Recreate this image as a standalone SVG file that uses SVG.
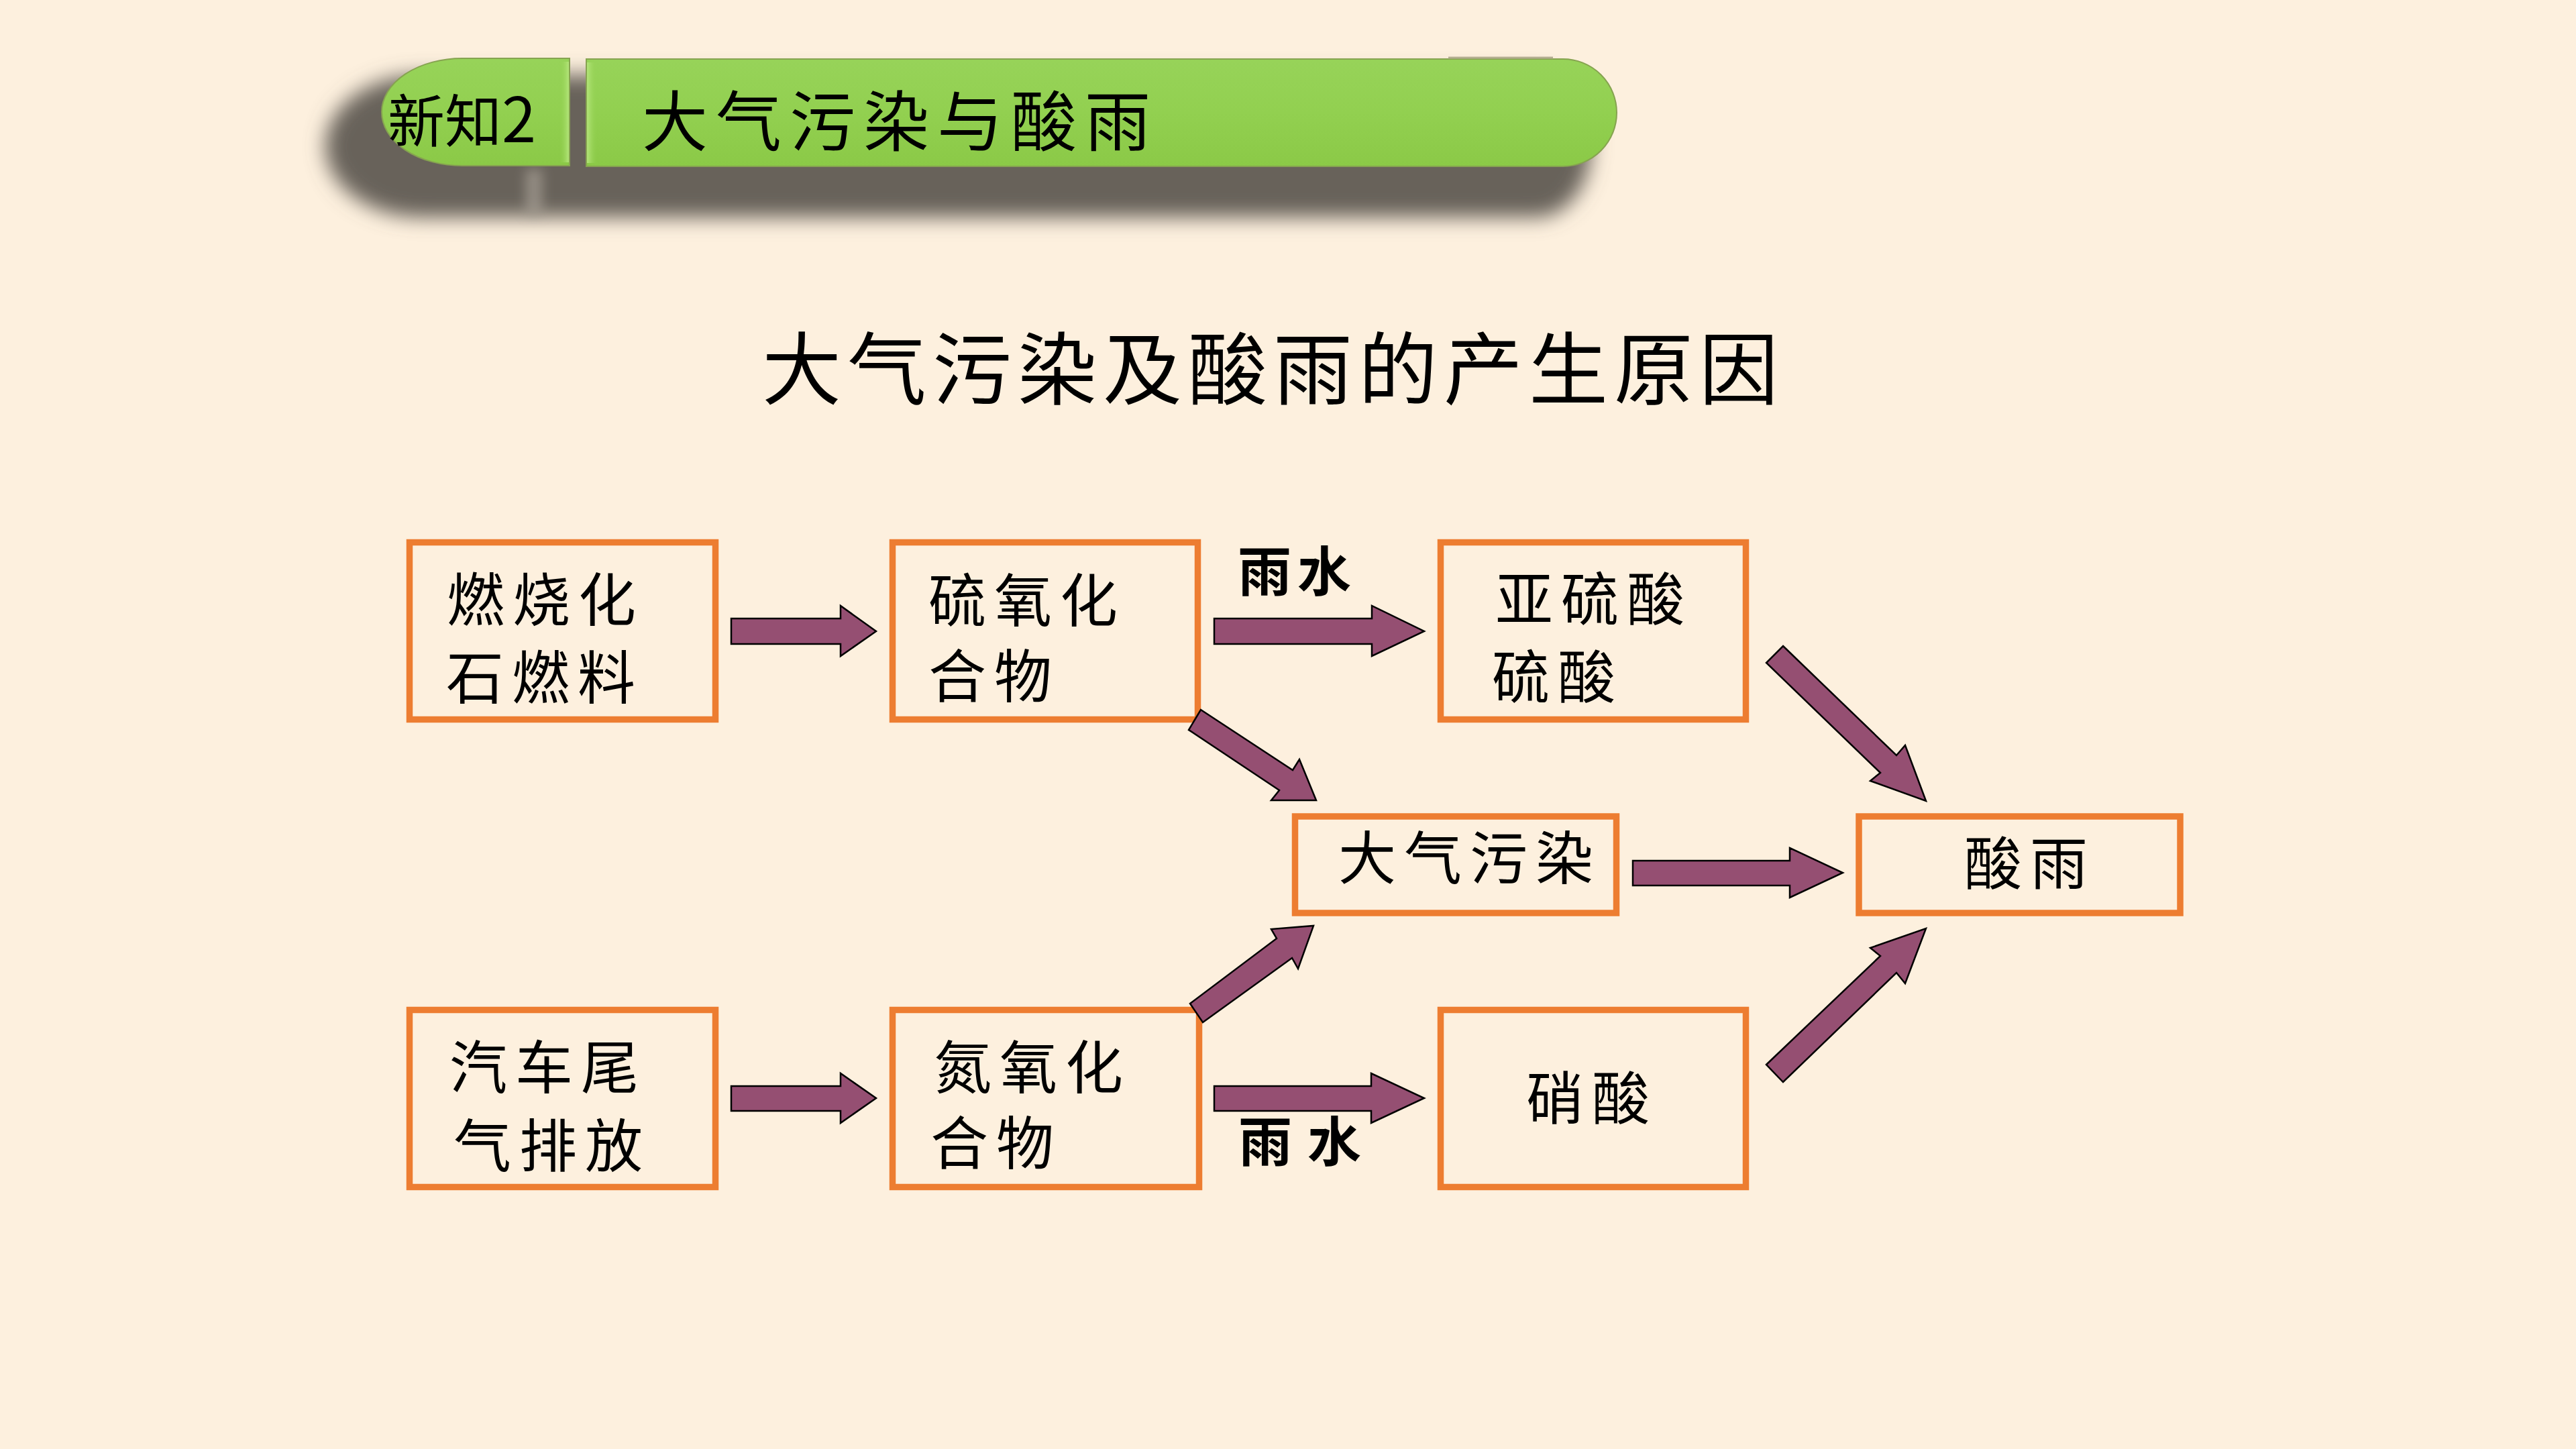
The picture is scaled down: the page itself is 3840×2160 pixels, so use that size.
<svg xmlns="http://www.w3.org/2000/svg" width="3840" height="2160" viewBox="0 0 3840 2160">
  <defs>
    <style>
      .box { fill: none; stroke: #ED7D31; stroke-width: 9.5; }
      .arr { fill: #954F72; stroke: #000000; stroke-width: 2.5; stroke-linejoin: miter; }
      .t { font-family: "Noto Sans CJK SC", "Noto Sans CJK JP", sans-serif; font-size: 86px; letter-spacing: 12px; fill: #000000; }
      .lbl { font-family: "Noto Sans CJK SC", "Noto Sans CJK JP", sans-serif; font-size: 80px; font-weight: bold; fill: #000000; }
      .title { font-family: "Noto Sans CJK SC", "Noto Sans CJK JP", sans-serif; font-size: 118px; letter-spacing: 9px; fill: #000000; }
      .ban { font-family: "Noto Sans CJK SC", "Noto Sans CJK JP", sans-serif; fill: #000000; }
    </style>
    <filter id="blur" x="-20%" y="-50%" width="140%" height="200%">
      <feGaussianBlur stdDeviation="15"/>
    </filter>
    <filter id="blur2" x="-200%" y="-50%" width="500%" height="200%">
      <feGaussianBlur stdDeviation="9"/>
    </filter>
    <linearGradient id="green" x1="0" y1="0" x2="0" y2="1">
      <stop offset="0" stop-color="#97D359"/>
      <stop offset="0.5" stop-color="#92D050"/>
      <stop offset="1" stop-color="#8BC947"/>
    </linearGradient>
    <linearGradient id="bevelL" x1="0" y1="0" x2="1" y2="0">
      <stop offset="0" stop-color="#92D050" stop-opacity="0"/>
      <stop offset="1" stop-color="#B4E57A"/>
    </linearGradient>
    <linearGradient id="bevelR" x1="0" y1="0" x2="1" y2="0">
      <stop offset="0" stop-color="#B4E57A"/>
      <stop offset="1" stop-color="#92D050" stop-opacity="0"/>
    </linearGradient>
  </defs>

  <rect x="0" y="0" width="3840" height="2160" fill="#FDF0DE"/>

  <!-- header banner -->
  <g id="banner">
    <path d="M 630 112 L 2290 112 A 82 106 0 0 1 2290 324 L 630 324 A 145 106 0 0 1 630 112 Z" fill="#68625A" filter="url(#blur)"/>
    <rect x="784" y="252" width="24" height="68" fill="#A8A096" opacity="0.7" filter="url(#blur2)"/>
    <g id="banner-left">
      <path d="M 849 87 L 689 87 A 120 80 0 0 0 689 247 L 849 247 Z" fill="url(#green)" stroke="#86A350" stroke-width="2"/>
      <rect x="834" y="92" width="14" height="150" fill="url(#bevelL)"/>
      <text class="ban" x="578" y="212" font-size="85">新知<tspan font-size="92">2</tspan></text>
    </g>
    <g id="banner-right">
      <path d="M 874 88 L 2330 88 A 80 80 0 0 1 2330 248 L 874 248 Z" fill="url(#green)" stroke="#86A350" stroke-width="2"/>
      <rect x="875" y="93" width="15" height="150" fill="url(#bevelR)"/>
      <line x1="2159" y1="86" x2="2315" y2="86" stroke="#B3AD90" stroke-width="3"/>
      <text class="ban" x="957" y="217" font-size="98" letter-spacing="12">大气污染与酸雨</text>
    </g>
  </g>

  <!-- title -->
  <text id="title" class="title" x="1136" y="594">大气污染及酸雨的产生原因</text>

  <!-- nodes -->
  <g id="node-fuel">
    <rect class="box" x="610.5" y="808.5" width="456" height="264"/>
    <text class="t" x="666" y="926">燃烧化</text>
    <text class="t" x="665" y="1042">石燃料</text>
  </g>
  <g id="node-sox">
    <rect class="box" x="1330.5" y="808.5" width="455" height="264"/>
    <text class="t" x="1384" y="927">硫氧化</text>
    <text class="t" x="1384" y="1040">合物</text>
  </g>
  <g id="node-sulfuric">
    <rect class="box" x="2147.5" y="808.5" width="455" height="264"/>
    <text class="t" x="2229" y="925">亚硫酸</text>
    <text class="t" x="2224" y="1041">硫酸</text>
  </g>
  <g id="node-pollution">
    <rect class="box" x="1930.5" y="1217" width="479" height="144"/>
    <text class="t" x="1995" y="1311" letter-spacing="8">大气污染</text>
  </g>
  <g id="node-acidrain">
    <rect class="box" x="2771" y="1217" width="479" height="144"/>
    <text class="t" x="2928" y="1319" letter-spacing="8">酸雨</text>
  </g>
  <g id="node-exhaust">
    <rect class="box" x="610.5" y="1505.5" width="456" height="264"/>
    <text class="t" x="670" y="1623">汽车尾</text>
    <text class="t" x="676" y="1740">气排放</text>
  </g>
  <g id="node-nox">
    <rect class="box" x="1330.5" y="1505.5" width="457" height="264"/>
    <text class="t" x="1392" y="1623">氮氧化</text>
    <text class="t" x="1387" y="1736">合物</text>
  </g>
  <g id="node-nitric">
    <rect class="box" x="2147.5" y="1505.5" width="455" height="264"/>
    <text class="t" x="2275" y="1669">硝酸</text>
  </g>

  <!-- connectors -->
  <g id="connectors">
    <polygon class="arr" points="1090,922 1253,922 1253,903 1306,941 1253,978 1253,960 1090,960"/>
    <polygon class="arr" points="1810,922 2045,922 2045,903 2123,941 2045,978 2045,960 1810,960"/>
    <polygon class="arr" points="1090,1619 1253,1619 1253,1600 1306,1637 1253,1674 1253,1656 1090,1656"/>
    <polygon class="arr" points="1810,1619 2044,1619 2044,1600 2123,1637 2044,1674 2044,1656 1810,1656"/>
    <polygon class="arr" points="2434,1283 2668,1283 2668,1264 2747,1301 2668,1338 2668,1320 2434,1320"/>
    <polygon class="arr" points="1790,1058 1927,1148 1937,1132 1962,1193 1895,1193 1907,1178 1772,1088"/>
    <polygon class="arr" points="1774,1496 1903,1399 1895,1385 1958,1380 1935,1444 1926,1428 1793,1524"/>
    <polygon class="arr" points="2658,963 2827,1126 2840,1111 2871,1194 2788,1164 2803,1152 2633,988"/>
    <polygon class="arr" points="2633,1587 2803,1425 2788,1413 2871,1384 2840,1466 2827,1450 2658,1613"/>
    <text class="lbl" x="1845" y="881" letter-spacing="9">雨水</text>
    <text class="lbl" x="1846" y="1731" letter-spacing="23">雨水</text>
  </g>
</svg>
